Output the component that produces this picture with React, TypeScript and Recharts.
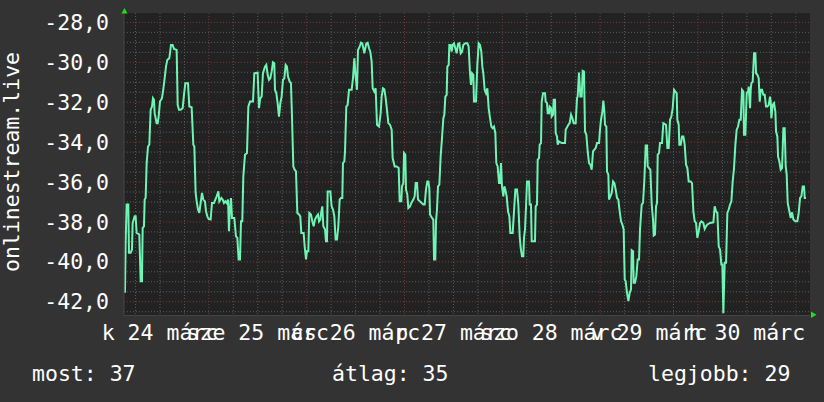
import React from "react";
import { LineChart, Line, XAxis, YAxis, CartesianGrid } from "recharts";

// hours since 24 márc 00:00
const hours = [
  3.41, 3.57, 3.82, 4.23, 4.39, 4.8, 5.13, 5.29, 5.78, 6.03, 6.27, 6.93, 7.26, 7.58, 7.75, 8.07, 8.24, 8.48, 8.73, 9.06,
  9.38, 9.71, 10.04, 10.28, 10.53, 10.69, 11.18, 11.43, 11.67, 12.0, 12.49, 12.74, 13.15, 13.47, 13.8, 14.29, 14.7, 15.11, 15.44, 16.09,
  16.34, 16.66, 17.07, 17.56, 17.89, 18.22, 18.87, 19.2, 19.77, 20.18, 20.43, 20.75, 21.0, 21.33, 21.65, 21.98, 22.31, 22.63, 23.04, 23.29,
  23.62, 23.94, 24.43, 24.76, 25.25, 25.58, 25.91, 26.32, 26.56, 27.05, 27.38, 27.7, 28.03, 28.36, 28.69, 28.93, 29.1, 29.42, 29.67, 30.24,
  30.65, 30.98, 31.3, 31.63, 31.88, 32.2, 32.45, 32.86, 33.35, 33.68, 34.09, 34.82, 35.15,
  35.96, 36.29, 36.62, 36.95, 37.27, 37.76, 38.09, 38.42, 38.75, 39.07, 39.4, 39.73, 40.05, 40.22, 40.55, 40.87, 41.2, 41.53, 41.85, 42.18,
  42.51, 42.84, 43.16, 43.41, 43.82, 44.14, 44.39, 44.72, 45.04, 45.37, 45.7, 46.11, 46.43, 46.68, 47.25, 47.5, 47.83, 48.07, 48.4, 48.64,
  49.05, 49.38, 49.71, 50.03, 50.44, 50.77, 51.02, 51.34, 51.59, 51.83, 52.08, 52.49, 52.73, 52.98, 53.14, 53.8, 54.12, 54.45, 54.78, 55.1,
  55.43, 55.76, 56.09, 56.41, 56.74, 56.9, 57.23, 57.4, 57.72, 58.05, 58.38, 59.03, 59.36, 59.69, 60.01, 60.34, 60.59, 61.0, 61.32, 61.65,
  62.14, 62.63, 62.96, 63.29, 63.61, 63.94, 64.19, 64.59, 64.92, 65.25, 65.74, 66.15, 66.39, 66.72, 67.05, 67.38, 67.7, 68.03,
  68.44, 68.85, 69.09, 69.59, 70.08, 70.57, 70.81, 71.22, 71.38, 71.71, 71.88, 72.2, 72.37, 72.69, 72.94, 73.35, 73.68, 74.17, 74.49, 74.74,
  75.07, 75.31, 75.8, 76.21, 76.62, 76.95, 77.27, 77.6, 77.85, 78.09, 78.26, 78.75, 79.07, 79.24, 79.56, 79.73, 79.97, 80.22, 80.55, 80.87,
  81.2, 81.53, 81.77, 82.02, 82.35, 82.51, 82.84, 83.0, 83.33, 83.57, 83.82, 84.15, 84.47, 84.8, 85.13, 85.45, 85.78, 86.11, 86.44, 86.93,
  87.42, 87.74, 88.07, 88.32, 88.56, 88.89, 89.05, 89.54, 89.87, 90.2, 90.53, 90.85, 91.1, 91.34, 91.67, 92.0, 92.33, 92.65, 92.98, 93.31,
  93.63, 93.96, 94.29, 94.53, 94.86, 95.19, 95.43, 95.68, 95.92, 96.25, 96.5, 96.74, 97.07, 97.4, 97.73, 97.97, 98.54, 98.87, 99.2, 99.61,
  99.93, 100.26, 100.51, 100.83, 101.16, 101.32, 101.57,
  101.82, 102.06, 102.55, 102.72, 103.04, 103.21, 104.02, 104.19, 104.51, 104.68, 105.01, 105.17, 105.5, 105.66, 105.99, 106.48, 106.64, 106.97, 107.13, 107.46,
  107.62, 107.95, 108.11, 108.44, 108.6, 108.93, 109.1, 109.42, 109.59, 109.91, 110.57, 111.39, 111.55, 112.2, 112.53, 112.86, 113.19, 113.51, 114.0, 114.33,
  114.49, 114.82, 115.15, 115.48, 115.72, 116.05, 116.29, 116.62, 116.95, 117.28, 117.6, 117.93, 118.26, 118.58, 118.91, 119.24, 119.73, 119.97, 120.22, 120.55,
  120.79, 121.04, 121.2, 121.53, 121.69, 122.02, 122.18, 122.51, 122.84, 123.17, 123.49, 123.82, 124.15, 124.47, 124.8, 125.13, 125.46, 125.78, 126.03, 126.27,
  126.6, 126.93, 127.26, 127.58, 127.75, 128.07, 128.24, 128.56, 128.89, 129.22, 129.55, 129.79, 130.2, 130.53, 130.86, 131.18, 131.51, 131.67, 132.0, 132.33,
  132.66, 132.98, 133.15, 133.47, 133.72, 133.96, 134.13, 134.45,
  134.7, 135.19, 135.52, 136.17, 136.5, 136.83, 137.15, 137.48, 137.81, 138.14, 138.46, 138.79, 138.95, 139.28, 139.44, 139.77, 140.1, 140.43, 140.75, 141.08,
  141.41, 141.73, 142.23, 142.55, 142.88, 143.21, 143.53, 143.86, 144.19, 144.52, 144.84, 145.33, 145.66, 145.99, 146.32, 146.97, 147.79, 148.12, 148.44, 148.77,
  149.1, 149.42, 149.75, 150.0, 150.24, 150.57, 150.9, 151.22, 151.55, 151.88, 152.21, 152.53, 152.86, 153.19, 153.51, 153.84, 154.17, 154.5, 154.82, 155.15,
  155.31, 155.64, 155.97, 156.3, 156.46, 156.79, 156.95, 157.11, 157.44, 157.77, 158.1, 158.26, 158.59, 158.91, 159.16, 159.4, 159.73, 160.06, 160.39, 160.71,
  161.04, 161.37, 161.69, 161.86, 162.02, 162.35, 162.68, 163.0, 163.17, 163.49, 163.66, 163.98, 164.31, 164.64, 164.97, 165.29, 165.54, 165.78, 166.03, 166.44,
  166.77, 167.09, 167.42, 167.91, 168.4, 168.73, 169.06, 169.38, 169.71, 170.04, 170.2, 170.53,
];

const temps = [
  -41.55, -39.05, -37.13, -37.13, -39.55, -39.55, -39.38, -38.05, -37.72, -37.72, -38.55, -38.63, -40.97, -40.97, -38.3, -38.22, -36.88, -36.8, -35.05, -34.22,
  -34.13, -32.38, -32.22, -31.8, -31.88, -32.55, -33.05, -33.05, -32.72, -31.97, -31.8, -31.47, -30.8, -30.22, -29.88, -29.8, -29.13, -29.13, -29.33, -29.38,
  -32.13, -32.38, -32.38, -32.3, -31.63, -31.05, -31.05, -32.22, -32.25, -34.13, -34.22, -36.55, -36.97, -37.38, -37.55, -37.05, -36.55, -36.88, -36.97, -37.47,
  -37.72, -37.85, -37.88, -37.05, -37.05, -36.88, -36.72, -36.47, -36.97, -36.8, -36.88, -37.05, -36.97, -37.05, -36.88, -38.47, -37.55, -36.8, -37.8, -37.8,
  -38.72, -38.8, -39.88, -39.88, -37.97, -37.97, -35.72, -34.63, -34.55, -32.22, -31.97, -31.97, -30.55,
  -30.52, -32.3, -31.8, -31.72, -30.55, -30.22, -30.13, -30.63, -30.88, -30.8, -30.47, -30.0, -30.05, -31.38, -31.55, -32.05, -32.72, -32.05, -31.72, -30.88,
  -30.8, -30.13, -30.22, -30.72, -30.97, -31.05, -32.72, -35.22, -35.38, -35.47, -37.55, -37.63, -37.72, -38.55, -38.55, -39.22, -39.88, -39.47, -39.47, -37.55,
  -37.63, -37.97, -38.22, -37.88, -37.72, -37.63, -37.97, -37.88, -37.47, -37.22, -38.22, -38.38, -38.97, -38.97, -36.47, -36.47, -37.22, -37.38, -37.72, -38.88,
  -38.88, -38.22, -36.88, -36.8, -36.8, -35.05, -34.97, -34.47, -32.22, -32.13, -31.38, -31.38, -30.8, -29.8, -30.72, -31.38, -29.38, -29.22, -29.02, -29.05,
  -29.55, -29.05, -29.02, -29.3, -29.47, -29.97, -31.3, -31.47, -31.3, -33.13, -33.22, -32.55, -31.72, -31.3, -31.35, -31.8, -32.38, -33.05,
  -33.13, -33.38, -34.8, -35.22, -35.22, -35.3, -36.97, -36.97, -36.22, -36.05, -34.55, -34.63, -36.38, -36.63, -37.3, -37.22, -37.05, -36.88, -36.72, -36.05,
  -36.05, -36.88, -36.97, -37.05, -37.13, -37.13, -36.38, -35.97, -35.97, -36.3, -37.63, -37.8, -37.88, -39.88, -39.88, -37.97, -37.38, -36.22, -36.13, -34.72,
  -33.8, -32.8, -32.63, -31.72, -31.63, -30.22, -30.13, -29.13, -29.13, -29.47, -29.13, -29.05, -29.3, -29.55, -29.08, -29.05, -29.55, -29.47, -29.13, -29.05,
  -29.05, -29.22, -30.55, -31.13, -30.55, -30.63, -31.97, -31.97, -30.13, -29.05, -29.13, -29.47, -30.22, -30.55, -31.38, -31.55, -31.3, -32.3, -32.8, -33.22,
  -33.3, -33.22, -33.55, -35.05, -35.22, -36.05, -36.05, -35.05, -36.22, -36.72, -36.22, -36.38, -36.72, -37.47, -37.72, -38.55, -38.55, -37.47, -36.38, -36.38,
  -37.13, -38.72, -39.3, -39.72, -39.72, -38.8, -38.38,
  -37.22, -35.97, -35.97, -37.13, -37.13, -38.97, -38.97, -37.22, -37.13, -34.88, -34.8, -34.13, -34.05, -31.97, -31.55, -31.55, -31.97, -32.05, -32.55, -32.55,
  -32.22, -32.3, -32.72, -32.63, -31.88, -31.88, -33.55, -33.72, -34.13, -33.97, -34.05, -34.05, -33.38, -33.13, -33.05, -32.63, -32.8, -33.05, -33.05, -31.8,
  -31.72, -30.52, -31.72, -31.72, -30.43, -30.47, -33.47, -33.63, -34.47, -35.05, -35.13, -35.38, -34.47, -34.38, -34.3, -34.05, -34.05, -33.38, -32.88, -32.47,
  -31.92, -32.47, -33.13, -33.22, -35.47, -35.63, -36.88, -36.72, -36.55, -35.97, -36.05, -36.38, -36.8, -36.88, -37.47, -37.97, -38.13, -38.38, -40.88, -40.97,
  -41.55, -41.97, -41.55, -41.38, -39.42, -39.47, -41.05, -41.05, -40.72, -39.88, -39.88, -38.38, -37.13, -37.05, -35.88, -34.17, -34.17, -35.22, -35.3, -35.38,
  -37.13, -37.88, -38.68, -38.63, -37.22, -37.05, -34.63, -34.55,
  -34.05, -34.05, -33.05, -33.13, -34.3, -34.3, -32.88, -32.72, -32.3, -31.38, -31.47, -31.55, -32.88, -33.13, -34.13, -34.13, -33.72, -33.72, -34.13, -35.13,
  -35.3, -35.97, -35.97, -36.05, -37.47, -37.97, -38.05, -38.8, -38.47, -38.05, -37.97, -38.05, -38.35, -38.22, -38.13, -38.05, -38.02, -37.22, -37.47, -37.55,
  -39.22, -39.38, -40.13, -40.13, -42.58, -40.05, -40.05, -37.55, -37.38, -37.13, -36.97, -35.97, -35.3, -34.13, -33.38, -33.22, -32.88, -32.88, -31.38, -31.47,
  -33.63, -33.63, -31.55, -31.47, -31.22, -32.3, -31.38, -31.05, -30.97, -29.55, -29.55, -30.55, -30.63, -30.8, -31.97, -31.38, -31.38, -31.63, -31.63, -32.22,
  -32.22, -32.13, -31.72, -31.97, -32.8, -32.13, -32.05, -32.47, -33.47, -33.72, -34.72, -34.97, -35.38, -35.3, -33.3, -33.3, -35.22, -35.63, -37.05, -37.47,
  -37.8, -37.52, -37.88, -37.97, -37.97, -37.55, -36.8, -36.72, -36.22, -36.22, -36.8, -36.8,
];

const dayLabels = ["k 24 márc", "sze 25 márc", "cs 26 márc", "p 27 márc", "szo 28 márc", "v 29 márc", "h 30 márc"];
const labelHours = [12, 36, 60, 84, 108, 132, 156];
const majorHours = [24, 48, 72, 96, 120, 144, 168];
const yTicks = [-28, -30, -32, -34, -36, -38, -40, -42];
const summaryLabels = ["most: 37", "átlag: 35", "legjobb: 29"];

const data = hours.map((t, i) => ({ t, v: temps[i] }));

const minorHours: number[] = [];
for (let h = 6; h <= 168; h += 6) if (h % 24 !== 0) minorHours.push(h);
const minorTemps: number[] = [];
for (let v = -42.5; v <= -28; v += 0.5) if (v % 2 !== 0) minorTemps.push(v);

const FONT = "'DejaVu Sans Mono', monospace";
const FS = 21.5;

const DayTick = (props: any) => {
  const { x, y, payload } = props;
  const i = labelHours.indexOf(payload.value);
  return (
    <text x={x} y={y} dy={24.5} textAnchor="middle" fill="#ffffff" fontFamily={FONT} fontSize={FS}>
      {dayLabels[i]}
    </text>
  );
};

const App: React.FC = () => {
  return (
    <div style={{ position: "absolute", left: 0, top: 0, width: 824, height: 402, background: "#333333" }}>
      <LineChart width={824} height={402} data={data} margin={{ top: 13, right: 14, bottom: 0, left: 0 }}>
        <CartesianGrid
          fill="#222222"
          stroke="#5c5c5c"
          strokeDasharray="1 2"
          horizontalValues={minorTemps}
          verticalValues={minorHours}
        />
        <CartesianGrid
          stroke="#7c3838"
          strokeDasharray="1 2"
          horizontalValues={yTicks}
          verticalValues={majorHours}
        />
        <XAxis
          dataKey="t"
          type="number"
          domain={[3.17, 171.5]}
          ticks={labelHours}
          allowDataOverflow
          height={86.5}
          tickSize={0}
          tickMargin={0}
          axisLine={{ stroke: "#444444" }}
          tick={<DayTick />}
          interval={0}
        />
        <YAxis
          type="number"
          domain={[-42.69, -27.53]}
          ticks={yTicks}
          allowDataOverflow
          width={124}
          tickSize={0}
          tickMargin={15}
          axisLine={{ stroke: "#444444" }}
          tickFormatter={(v: number) => v.toFixed(1).replace(".", ",")}
          tick={{ fill: "#ffffff", fontFamily: FONT, fontSize: FS }}
          interval={0}
        />
        <Line
          type="linear"
          dataKey="v"
          stroke="#6ef5b4"
          strokeWidth={2}
          dot={false}
          isAnimationActive={false}
        />
      </LineChart>
      <svg
        width={824}
        height={402}
        style={{ position: "absolute", left: 0, top: 0, pointerEvents: "none" }}
      >
        <text
          transform="translate(19,162) rotate(-90)"
          textAnchor="middle"
          fill="#ffffff"
          fontFamily={FONT}
          fontSize={FS}
        >
          onlinestream.live
        </text>
        <polygon points="121.5,13.5 127.5,13.5 124.5,8" fill="#22dd22" />
        <polygon points="811,311.5 811,318 816.5,314.75" fill="#22dd22" />
        <text x={32} y={381} fill="#ffffff" fontFamily={FONT} fontSize={FS}>{summaryLabels[0]}</text>
        <text x={332} y={381} fill="#ffffff" fontFamily={FONT} fontSize={FS}>{summaryLabels[1]}</text>
        <text x={648} y={381} fill="#ffffff" fontFamily={FONT} fontSize={FS}>{summaryLabels[2]}</text>
      </svg>
    </div>
  );
};

export default App;
